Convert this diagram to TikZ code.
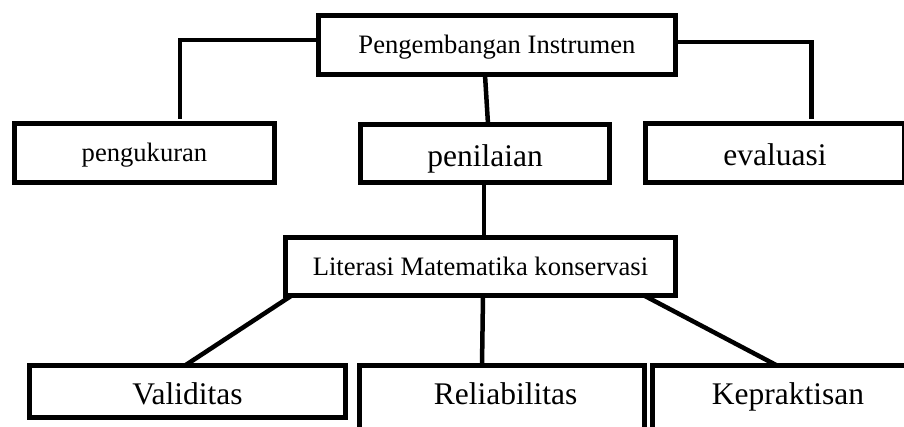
\documentclass[tikz,border=0pt]{standalone}
\usepackage{fontspec}
\setmainfont{Liberation Serif}
\begin{document}
\begin{tikzpicture}[x=1pt,y=-1pt,
  box/.style={draw=black, line width=5pt, fill=white, inner sep=0pt, align=center},
  smalltxt/.style={font=\fontsize{26.6}{30}\selectfont, text height=20pt, text depth=3pt},
  bigtxt/.style={font=\fontsize{31.5}{36}\selectfont, text height=27pt, text depth=2pt},
  conn/.style={draw=black, line width=4.5pt}]
\useasboundingbox (0,0) rectangle (904,426);
\clip (0,0) rectangle (904,426);
\fill[white] (0,0) rectangle (904,426);

\coordinate (reltop) at (482,365.5);
\coordinate (keptop) at (777,365.5);
\coordinate (valtop) at (185,365.5);

\node[box, smalltxt, minimum width=357pt, minimum height=59pt] (top) at (497,45) {Pengembangan Instrumen};
\node[box, smalltxt, minimum width=260pt, minimum height=59pt] (peng) at (144.5,153) {pengukuran};
\node[box, bigtxt, minimum width=249pt, minimum height=58pt] (pen) at (485,153.5) {penilaian};
\node[box, bigtxt, minimum width=259pt, minimum height=59pt] (eva) at (775,153) {evaluasi};
\node[box, smalltxt, minimum width=390pt, minimum height=58pt] (lit) at (480.5,266.5) {Literasi Matematika konservasi};
\node[box, bigtxt, minimum width=316pt, minimum height=52pt] (val) at (187.5,391.5) {Validitas};

% open boxes at the bottom
\draw[line width=5pt] (359.5,430) -- (359.5,365.5) -- (644.5,365.5) -- (644.5,430);
\draw[line width=5pt] (652.5,430) -- (652.5,365.5) -- (910,365.5);
\node[bigtxt, inner sep=0pt] (rel) at (505.5,391.5) {Reliabilitas};
\node[bigtxt, inner sep=0pt] (kep) at (788,391.5) {Kepraktisan};

% connectors
\draw[conn] ([yshift=5pt]top.west) -| ([xshift=35.5pt,yshift=2.5pt]peng.north);
\draw[conn] ([yshift=3pt]top.east) -| ([xshift=36.5pt,yshift=2.5pt]eva.north);
\draw[conn] ([xshift=-12pt,yshift=2pt]top.south) -- ([xshift=3pt,yshift=-2pt]pen.north);
\draw[conn] ([xshift=-1pt,yshift=2pt]pen.south) -- ([xshift=3.5pt,yshift=-2pt]lit.north);
\draw[conn] ([xshift=8pt,yshift=2pt]lit.south west) -- (valtop);
\draw[conn] ([xshift=2.5pt,yshift=2pt]lit.south) -- (reltop);
\draw[conn] ([xshift=-33pt,yshift=2pt]lit.south east) -- (keptop);
\end{tikzpicture}
\end{document}
